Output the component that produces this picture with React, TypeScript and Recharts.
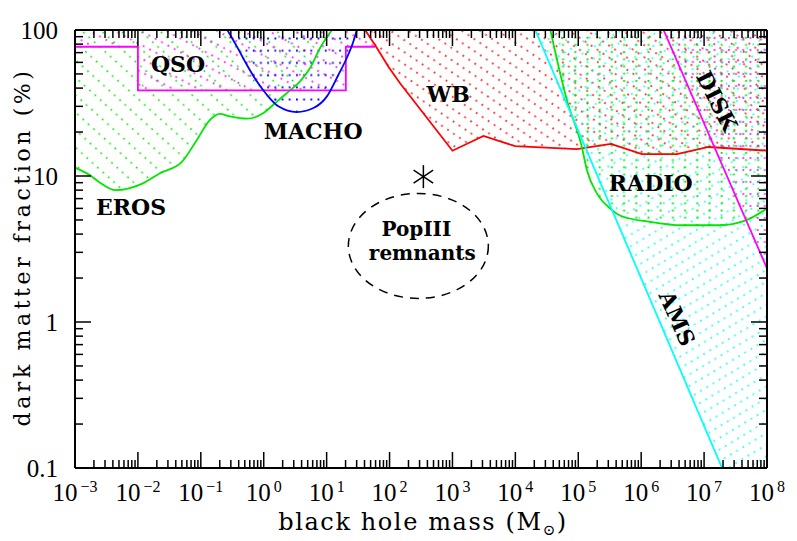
import React from 'react';
import { ComposedChart, XAxis, YAxis, Area, Line, ReferenceDot, Label } from 'recharts';

// ---------- axis ticks ----------
const xMajorTicks = [1e-3, 1e-2, 1e-1, 1, 1e1, 1e2, 1e3, 1e4, 1e5, 1e6, 1e7, 1e8];
const xTickExponents = ['\u22123', '\u22122', '\u22121', '0', '1', '2', '3', '4', '5', '6', '7', '8'];
const yMajorTicks = [0.1, 1, 10, 100];
const yTickLabels = ['0.1', '1', '10', '100'];
const minorMultipliers = [2, 3, 4, 5, 6, 7, 8, 9];
const xDecades = [1e-3, 1e-2, 1e-1, 1, 1e1, 1e2, 1e3, 1e4, 1e5, 1e6, 1e7];
const yDecades = [0.1, 1, 10];
const xMinorTicks = xDecades.flatMap((d) => minorMultipliers.map((k) => k * d));
const yMinorTicks = yDecades.flatMap((d) => minorMultipliers.map((k) => k * d));

// ---------- constraint curves (mass in Msun, fraction in %) ----------
const erosMass = [0.001, 0.00174, 0.0025, 0.0044, 0.012, 0.022, 0.05, 0.086, 0.14, 0.2, 0.29, 0.55, 0.99, 1.52, 2.33, 3.78, 5.46, 7.87, 12.1];
const erosFrac = [11.4, 10.1, 9.0, 8.0, 8.9, 10.4, 12.5, 17.6, 24.2, 26.6, 25.6, 24.7, 27.0, 31.6, 37.0, 44.5, 54.9, 75.3, 100];

const qsoMass = [0.001, 0.01, 0.01, 20.2, 20.2, 59];
const qsoFrac = [76.8, 76.8, 38.6, 38.6, 76.8, 76.8];

const machoMass = [0.264, 0.373, 0.538, 0.776, 1.12, 1.71, 3.36, 6.17, 10.1, 15.4, 20.9, 26.7, 30.2];
const machoFrac = [100, 77.3, 57.8, 44.5, 36.0, 30.0, 27.4, 29.2, 35.1, 49.4, 64.3, 83.7, 100];

const wbMass = [41, 63, 96, 148, 1000, 3110, 9950, 95000, 330000, 1.03e6, 3.7e6, 1.18e7, 1e8];
const wbFrac = [100, 75.3, 56, 43, 14.9, 18.8, 16.0, 15.3, 16.6, 14.1, 14.1, 15.8, 14.9];

const amsMass = [2.07e4, 1.93e7, 1e8];
const amsFrac = [100, 0.1, 0.1];

const radioMass = [3.6e4, 6.6e4, 1.14e5, 1.37e5, 1.98e5, 3.2e5, 4.9e5, 1.39e6, 4.2e6, 1.8e7, 4.8e7, 1e8];
const radioFrac = [100, 33, 15.8, 11, 7.6, 6.0, 5.3, 4.85, 4.6, 4.6, 5.0, 6.0];

const diskMass = [2.27e6, 1e8];
const diskFrac = [100, 2.33];

const TOP = 100;

// ---------- annotations ----------
const regionLabels = [
  { text: 'QSO', m: 0.0435, f: 58.9, angle: 0 },
  { text: 'MACHO', m: 6.1, f: 20.3, angle: 0 },
  { text: 'EROS', m: 0.00778, f: 6.1, angle: 0 },
  { text: 'WB', m: 855, f: 36.4, angle: 0 },
  { text: 'RADIO', m: 1.42e6, f: 9.0, angle: 0 },
  { text: 'DISK', m: 1.62e7, f: 32.6, angle: 63 },
  { text: 'AMS', m: 3.75e6, f: 1.06, angle: 66 },
];
const popIII = { m: 287, f: 3.32, lines: ['PopIII', 'remnants'] };
const starPoint = { m: 345, f: 9.9 };

const rows = (ms: number[], fs: number[]) => ms.map((m, i) => ({ m, f: fs[i], band: [fs[i], TOP] }));
const erosRows = rows(erosMass, erosFrac);
const qsoRows = rows(qsoMass, qsoFrac);
const machoRows = rows(machoMass, machoFrac);
const wbRows = rows(wbMass, wbFrac);
const amsRows = rows(amsMass, amsFrac);
const amsLineRows = amsRows.slice(0, 2);
const radioRows = rows(radioMass, radioFrac);
const diskRows = rows(diskMass, diskFrac);

const TICK_FONT = 'Liberation Serif, serif';
const TEXT_FONT = 'DejaVu Serif, serif';

const closeIdx = (arr: number[], v: number) =>
  arr.findIndex((a) => Math.abs(Math.log10(a) - Math.log10(v)) < 1e-6);

const XTick = (props: any) => {
  const { x, y, payload } = props;
  const i = closeIdx(xMajorTicks, payload.value);
  if (i < 0) return <g />;
  return (
    <text x={x} y={y + 33} textAnchor="middle" fontFamily={TICK_FONT} fontSize={25} fill="#000">
      10
      <tspan dx={3} dy={-9} fontSize={16}>
        {xTickExponents[i]}
      </tspan>
    </text>
  );
};

const YTick = (props: any) => {
  const { x, y, payload } = props;
  const i = closeIdx(yMajorTicks, payload.value);
  if (i < 0) return <g />;
  return (
    <text x={x - 17} y={y + 8.5} textAnchor="end" fontFamily={TICK_FONT} fontSize={25} fill="#000">
      {yTickLabels[i]}
    </text>
  );
};

const NoTick = () => <g />;

const XTitle = (props: any) => {
  const vb = props.viewBox || {};
  const cx = vb.x + vb.width / 2 + 2;
  return (
    <text x={cx} y={vb.y + 62} textAnchor="middle" fontFamily={TEXT_FONT} fontSize={24} letterSpacing={1.6} fill="#000">
      black hole mass (M
      <tspan fontSize={15} dy={5}>
        {'\u2299'}
      </tspan>
      <tspan dy={-5}>)</tspan>
    </text>
  );
};

const YTitle = (props: any) => {
  const vb = props.viewBox || {};
  const cy = vb.y + vb.height / 2 - 2;
  const x = 22;
  return (
    <text
      x={x}
      y={cy}
      transform={`rotate(-90 ${x} ${cy})`}
      textAnchor="middle"
      fontFamily={TEXT_FONT}
      fontSize={22}
      letterSpacing={3.6}
      fill="#000"
    >
      dark matter fraction (%)
    </text>
  );
};

const Hatch = ({ id, color, angle, gap }: { id: string; color: string; angle: number; gap: number }) => (
  <pattern id={id} patternUnits="userSpaceOnUse" width={14.4} height={gap} patternTransform={`rotate(${angle})`}>
    <line x1={0} y1={gap / 2} x2={14.4} y2={gap / 2} stroke={color} strokeWidth={1.7} strokeDasharray="1.8 5.4" />
  </pattern>
);

const GREEN = '#00e600';
const MAGENTA = '#ff00ff';
const BLUE = '#0000ff';
const RED = '#ff0000';
const CYAN = '#00ffff';

const axisCommon = { allowDataOverflow: true, interval: 0 as const };
const xCommon = { ...axisCommon, type: 'number' as const, scale: 'log' as const, domain: [1e-3, 1e8], dataKey: 'm', height: 1 };
const yCommon = { ...axisCommon, type: 'number' as const, scale: 'log' as const, domain: [0.1, 100], width: 1 };
const lineStyle = { stroke: '#000', strokeWidth: 1.5 };
const frameStyle = { stroke: '#000', strokeWidth: 2 };

export default function App() {
  return (
    <ComposedChart width={789} height={533} margin={{ top: 20, right: 28, bottom: 71, left: 65 }}>
      <defs>
        <Hatch id="hEros" color={GREEN} angle={42} gap={13} />
        <Hatch id="hQso" color={MAGENTA} angle={28} gap={12} />
        <Hatch id="hMacho" color={BLUE} angle={0} gap={12.2} />
        <Hatch id="hWb" color={RED} angle={34} gap={10} />
        <Hatch id="hAms" color={CYAN} angle={-31} gap={10} />
        <Hatch id="hRadio" color={GREEN} angle={90} gap={12.2} />
        <Hatch id="hDisk" color={MAGENTA} angle={0} gap={12} />
      </defs>

      <XAxis xAxisId="x" {...xCommon} ticks={xMajorTicks} tickSize={-16} tickMargin={16} tick={<XTick />} axisLine={frameStyle} tickLine={lineStyle}>
        <Label content={<XTitle />} />
      </XAxis>
      <XAxis xAxisId="xm" {...xCommon} ticks={xMinorTicks} tickSize={-9} tick={<NoTick />} axisLine={false} tickLine={lineStyle} />
      <XAxis xAxisId="xt" {...xCommon} orientation="top" ticks={xMajorTicks} tickSize={-16} tick={<NoTick />} axisLine={frameStyle} tickLine={lineStyle} />
      <XAxis xAxisId="xtm" {...xCommon} orientation="top" ticks={xMinorTicks} tickSize={-9} tick={<NoTick />} axisLine={false} tickLine={lineStyle} />

      <YAxis yAxisId="y" {...yCommon} ticks={yMajorTicks} tickSize={-16} tickMargin={16} tick={<YTick />} axisLine={frameStyle} tickLine={lineStyle}>
        <Label content={<YTitle />} />
      </YAxis>
      <YAxis yAxisId="ym" {...yCommon} ticks={yMinorTicks} tickSize={-9} tick={<NoTick />} axisLine={false} tickLine={lineStyle} />
      <YAxis yAxisId="yr" {...yCommon} orientation="right" ticks={yMajorTicks} tickSize={-16} tick={<NoTick />} axisLine={frameStyle} tickLine={lineStyle} />
      <YAxis yAxisId="yrm" {...yCommon} orientation="right" ticks={yMinorTicks} tickSize={-9} tick={<NoTick />} axisLine={false} tickLine={lineStyle} />

      {/* hatched excluded regions */}
      <Area xAxisId="x" yAxisId="y" data={erosRows} dataKey="band" type="monotone" stroke="none" fill="url(#hEros)" fillOpacity={1} isAnimationActive={false} />
      <Area xAxisId="x" yAxisId="y" data={qsoRows} dataKey="band" type="linear" stroke="none" fill="url(#hQso)" fillOpacity={1} isAnimationActive={false} />
      <Area xAxisId="x" yAxisId="y" data={machoRows} dataKey="band" type="monotone" stroke="none" fill="url(#hMacho)" fillOpacity={1} isAnimationActive={false} />
      <Area xAxisId="x" yAxisId="y" data={wbRows} dataKey="band" type="linear" stroke="none" fill="url(#hWb)" fillOpacity={1} isAnimationActive={false} />
      <Area xAxisId="x" yAxisId="y" data={amsRows} dataKey="band" type="linear" stroke="none" fill="url(#hAms)" fillOpacity={1} isAnimationActive={false} />
      <Area xAxisId="x" yAxisId="y" data={radioRows} dataKey="band" type="monotone" stroke="none" fill="url(#hRadio)" fillOpacity={1} isAnimationActive={false} />
      <Area xAxisId="x" yAxisId="y" data={diskRows} dataKey="band" type="linear" stroke="none" fill="url(#hDisk)" fillOpacity={1} isAnimationActive={false} />

      {/* boundary curves */}
      <Line xAxisId="x" yAxisId="y" data={erosRows} dataKey="f" type="monotone" stroke={GREEN} strokeWidth={1.8} dot={false} isAnimationActive={false} />
      <Line xAxisId="x" yAxisId="y" data={qsoRows} dataKey="f" type="linear" stroke={MAGENTA} strokeWidth={1.8} dot={false} isAnimationActive={false} />
      <Line xAxisId="x" yAxisId="y" data={machoRows} dataKey="f" type="monotone" stroke={BLUE} strokeWidth={1.8} dot={false} isAnimationActive={false} />
      <Line xAxisId="x" yAxisId="y" data={wbRows} dataKey="f" type="linear" stroke={RED} strokeWidth={1.8} dot={false} isAnimationActive={false} />
      <Line xAxisId="x" yAxisId="y" data={radioRows} dataKey="f" type="monotone" stroke={GREEN} strokeWidth={1.8} dot={false} isAnimationActive={false} />
      <Line xAxisId="x" yAxisId="y" data={amsLineRows} dataKey="f" type="linear" stroke={CYAN} strokeWidth={1.8} dot={false} isAnimationActive={false} />
      <Line xAxisId="x" yAxisId="y" data={diskRows} dataKey="f" type="linear" stroke={MAGENTA} strokeWidth={1.8} dot={false} isAnimationActive={false} />

      {/* annotations */}
      {regionLabels.map((l) => (
        <ReferenceDot
          key={l.text}
          xAxisId="x"
          yAxisId="y"
          x={l.m}
          y={l.f}
          r={1}
          ifOverflow="visible"
          shape={(p: any) => (
            <text
              x={p.cx}
              y={p.cy + 8}
              textAnchor="middle"
              transform={l.angle ? `rotate(${l.angle} ${p.cx} ${p.cy})` : undefined}
              fontFamily={TEXT_FONT}
              fontWeight="bold"
              fontSize={22}
              fill="#000"
            >
              {l.text}
            </text>
          )}
        />
      ))}
      <ReferenceDot
        xAxisId="x"
        yAxisId="y"
        x={popIII.m}
        y={popIII.f}
        r={1}
        ifOverflow="visible"
        shape={(p: any) => (
          <g>
            <ellipse cx={p.cx} cy={p.cy} rx={70} ry={52.5} fill="none" stroke="#000" strokeWidth={1.5} strokeDasharray="9 7" />
            <text x={p.cx - 2} y={p.cy - 10} textAnchor="middle" fontFamily={TEXT_FONT} fontWeight="bold" fontSize={20} fill="#000">
              {popIII.lines[0]}
            </text>
            <text x={p.cx + 4} y={p.cy + 14} textAnchor="middle" fontFamily={TEXT_FONT} fontWeight="bold" fontSize={20} fill="#000">
              {popIII.lines[1]}
            </text>
          </g>
        )}
      />
      <ReferenceDot
        xAxisId="x"
        yAxisId="y"
        x={starPoint.m}
        y={starPoint.f}
        r={1}
        ifOverflow="visible"
        shape={(p: any) => (
          <g stroke="#000" strokeWidth={1.5}>
            <line x1={p.cx} y1={p.cy - 11.5} x2={p.cx} y2={p.cy + 11.5} />
            <line x1={p.cx - 9.8} y1={p.cy - 6.5} x2={p.cx + 9.8} y2={p.cy + 6.5} />
            <line x1={p.cx - 9.8} y1={p.cy + 6.5} x2={p.cx + 9.8} y2={p.cy - 6.5} />
          </g>
        )}
      />
    </ComposedChart>
  );
}
